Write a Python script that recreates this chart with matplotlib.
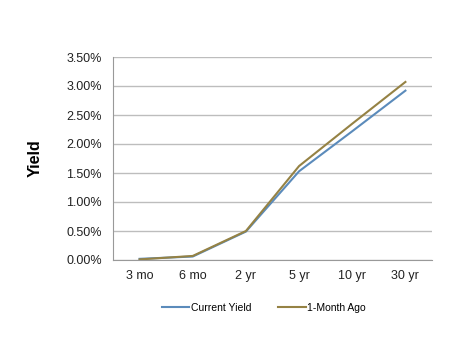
import matplotlib
matplotlib.use("Agg")
import matplotlib.pyplot as plt
from matplotlib.ticker import FuncFormatter

categories = ["3 mo", "6 mo", "2 yr", "5 yr", "10 yr", "30 yr"]
current_yield = [0.02, 0.06, 0.49, 1.53, 2.22, 2.92]
month_ago = [0.01, 0.07, 0.50, 1.62, 2.35, 3.07]

plt.rcParams['font.family'] = ['Liberation Sans', 'DejaVu Sans']

fig = plt.figure(figsize=(4.67, 3.41), dpi=100)
ax = fig.add_axes([113/467, 1-260/341, (432-113)/467, (260-57)/341])

x = list(range(len(categories)))
ax.plot(x, current_yield, color="#5b8bbb", lw=1.5, label="Current Yield")
ax.plot(x, month_ago, color="#958244", lw=1.5, label="1-Month Ago")

ax.set_xlim(-0.5, len(categories) - 0.5)
ax.set_ylim(0, 3.5)
ax.set_yticks([0, 0.5, 1.0, 1.5, 2.0, 2.5, 3.0, 3.5])
ax.yaxis.set_major_formatter(FuncFormatter(lambda v, p: f"{v:.2f}%"))
ax.set_xticks(x)
ax.set_xticklabels(categories)
ax.grid(axis="y", color="#bdbdbd", lw=1)
ax.set_axisbelow(True)
for s in ["top", "right"]:
    ax.spines[s].set_visible(False)
for s in ["left", "bottom"]:
    ax.spines[s].set_color("#999999")
ax.tick_params(axis="y", length=0, labelsize=9, pad=8, labelcolor="#222222")
ax.tick_params(axis="x", length=0, labelsize=9, pad=7, labelcolor="#222222")

fig.text(35/467, 1-158/341, "Yield", rotation=90, fontsize=11.5, fontweight="bold",
         ha="center", va="center")

fig.legend(loc="center", bbox_to_anchor=(264/467, 1-308/341), ncol=2, frameon=False,
           fontsize=7.5, handlelength=2.6, columnspacing=2.6, handletextpad=0.15)

fig.savefig("out.png", dpi=100)
